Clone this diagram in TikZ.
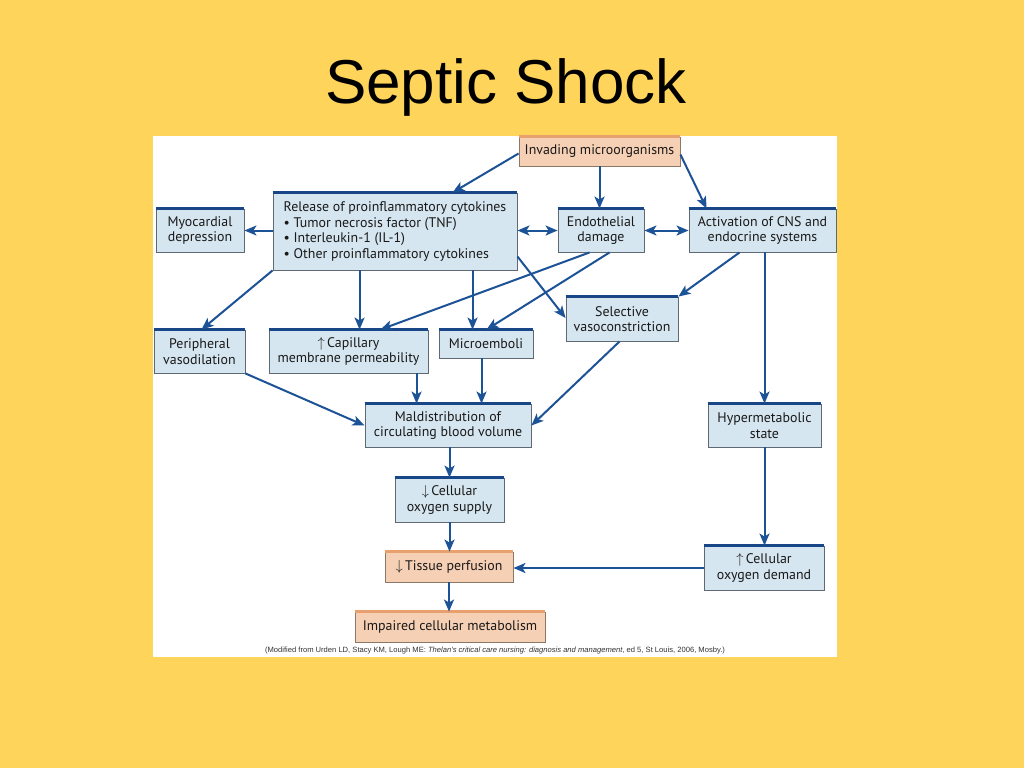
\documentclass[tikz,border=0pt]{standalone}
\usepackage{fontspec}
\setmainfont{PT Sans}
\newfontfamily\arialf{Liberation Sans}
\usetikzlibrary{arrows.meta,calc}
\definecolor{bgyellow}{RGB}{255,212,90}
\definecolor{boxblue}{RGB}{214,230,240}
\definecolor{boxedge}{RGB}{95,105,115}
\definecolor{topblue}{RGB}{25,70,135}
\definecolor{arrowblue}{RGB}{28,82,150}
\definecolor{boxorange}{RGB}{246,208,180}
\definecolor{toporange}{RGB}{232,160,110}
\definecolor{orangeedge}{RGB}{140,120,105}
\tikzset{
  bluebox/.style={draw=boxedge, line width=0.9pt, fill=boxblue, inner sep=0pt,
    align=center, font=\fontsize{13.9}{15.6}\selectfont, text=black!90},
  orangebox/.style={draw=orangeedge, line width=0.9pt, fill=boxorange, inner sep=0pt,
    align=center, font=\fontsize{13.9}{15.6}\selectfont, text=black!90},
  bluetop/.style={draw=topblue, line width=3pt},
  orangetop/.style={draw=toporange, line width=2.5pt},
  arr/.style={draw=arrowblue, line width=2pt, -{Stealth[length=12pt,width=10pt,inset=3pt]}},
  darr/.style={draw=arrowblue, line width=2pt, {Stealth[length=12pt,width=10pt,inset=3pt]}-{Stealth[length=12pt,width=10pt,inset=3pt]}},
}
\begin{document}
\begin{tikzpicture}[x=1pt,y=-1pt]
\fill[bgyellow] (0,0) rectangle (1024,768);
\useasboundingbox (0,0) rectangle (1024,768);
\node[font=\arialf\fontsize{62}{68}\selectfont, anchor=base] (title) at (506,103) {Septic Shock};
\fill[white] (153,136) rectangle (837,657);

% boxes
\node[orangebox, minimum width=161pt, minimum height=29pt] (inv) at (599.5,151.5) {Invading microorganisms};
\node[bluebox, minimum width=244pt, minimum height=77pt, align=left] (rel) at (395,231.5) {Release of proinflammatory cytokines\\
\textbullet\ Tumor necrosis factor (TNF)\\
\textbullet\ Interleukin-1 (IL-1)\\
\textbullet\ Other proinflammatory cytokines};
\node[bluebox, minimum width=88pt, minimum height=43pt] (myo) at (200,230.5) {Myocardial\\depression};
\node[bluebox, minimum width=86pt, minimum height=43pt] (endo) at (601,230.5) {Endothelial\\damage};
\node[bluebox, minimum width=147pt, minimum height=43pt] (cns) at (762.5,230.5) {Activation of CNS and\\endocrine systems};
\node[bluebox, minimum width=112pt, minimum height=44pt] (sel) at (622,319) {Selective\\vasoconstriction};
\node[bluebox, minimum width=91pt, minimum height=43pt] (per) at (199.5,351.5) {Peripheral\\vasodilation};
\node[bluebox, minimum width=159pt, minimum height=43pt] (cap) at (348.5,351.5) {$\uparrow$\,Capillary\\membrane permeability};
\node[bluebox, minimum width=94pt, minimum height=28pt] (mic) at (486,344) {Microemboli};
\node[bluebox, minimum width=166pt, minimum height=43pt] (mal) at (448,425.5) {Maldistribution of\\circulating blood volume};
\node[bluebox, minimum width=113pt, minimum height=43pt] (hyp) at (764.5,425.5) {Hypermetabolic\\state};
\node[bluebox, minimum width=109pt, minimum height=44pt] (sup) at (449.5,500) {$\downarrow$\,Cellular\\oxygen supply};
\node[orangebox, minimum width=128pt, minimum height=30pt] (tis) at (449,567) {$\downarrow$\,Tissue perfusion};
\node[bluebox, minimum width=120pt, minimum height=44pt] (dem) at (764,568) {$\uparrow$\,Cellular\\oxygen demand};
\node[orangebox, minimum width=190pt, minimum height=30pt] (imp) at (450,627) {Impaired cellular metabolism};

% top bars
\foreach \n in {rel,myo,endo,cns,sel,per,cap,mic,mal,hyp,sup,dem}
  \draw[bluetop] (\n.north west) -- (\n.north east);
\foreach \n in {inv,tis,imp}
  \draw[orangetop] (\n.north west) -- (\n.north east);

% connectors
\draw[arr] ($(inv.west)+(0,2)$) -- ($(rel.north west)+(180,0)$);
\draw[arr] (inv.south) -- (inv.south |- endo.north);
\draw[arr] ($(inv.east)+(0,3)$) -- ($(cns.north west)+(18,0)$);
\draw[darr] (rel.east |- endo.west) -- (endo.west);
\draw[darr] (endo.east) -- (cns.west);
\draw[arr] (rel.west |- myo.east) -- (myo.east);
\draw[arr] (rel.south west) -- ($(per.north)+(2,0)$);
\draw[arr] ($(rel.south west)+(87,0)$) coordinate (c1) -- (c1 |- cap.north);
\draw[arr] ($(rel.south west)+(200,0)$) coordinate (c2) -- (c2 |- mic.north);
\draw[arr] ($(endo.south west)+(32,0)$) -- ($(cap.north east)+(-48,0)$);
\draw[arr] ($(endo.south west)+(52,0)$) -- ($(mic.north west)+(48,0)$);
\draw[arr] ($(rel.east)+(0,25)$) -- ($(sel.west)+(0,-1)$);
\draw[arr] ($(cns.south west)+(51,0)$) -- (sel.north east);
\draw[arr] (hyp.north |- cns.south) -- (hyp.north);
\draw[arr] (per.south east) -- (mal.west);
\draw[arr] ($(cap.south west)+(148,0)$) coordinate (c3) -- (c3 |- mal.north);
\draw[arr] ($(mic.south west)+(43,0)$) coordinate (c4) -- (c4 |- mal.north);
\draw[arr] ($(sel.south west)+(54,0)$) -- (mal.east);
\draw[arr] (sup.north |- mal.south) -- (sup.north);
\draw[arr] (sup.south) -- (sup.south |- tis.north);
\draw[arr] (hyp.south) -- (hyp.south |- dem.north);
\draw[arr] (dem.west) -- (dem.west -| tis.east);
\draw[arr] (tis.south) -- (tis.south |- imp.north);

% caption
\node[font=\arialf\fontsize{7.6}{8.5}\selectfont, text=black!80] (cap-note) at (495,651) {(Modified from Urden LD, Stacy KM, Lough ME: \textit{Thelan's critical care nursing: diagnosis and management}, ed 5, St Louis, 2006, Mosby.)};
\end{tikzpicture}
\end{document}
